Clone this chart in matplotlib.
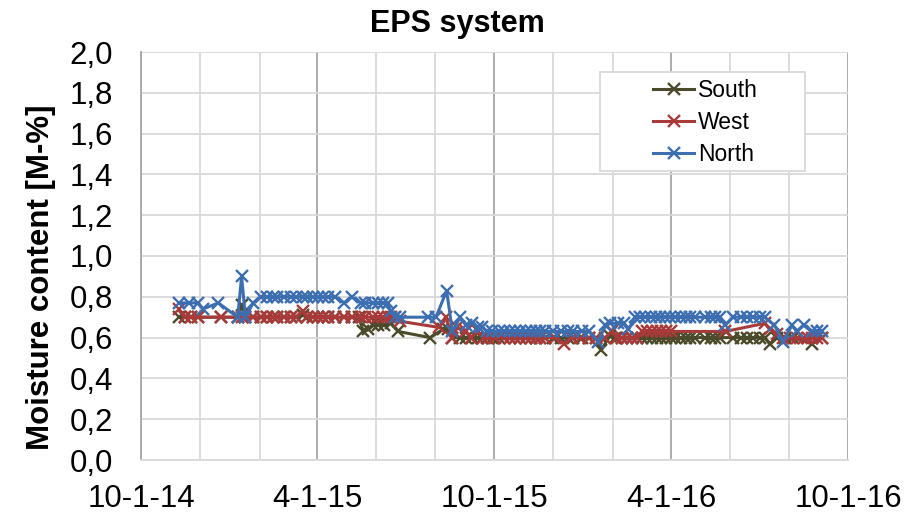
import matplotlib
matplotlib.use("Agg")
import matplotlib.pyplot as plt
import matplotlib.dates as mdates
from matplotlib.ticker import FuncFormatter, MultipleLocator
from matplotlib.patches import Rectangle
import pandas as pd

plt.rcParams['font.family'] = ['Liberation Sans', 'DejaVu Sans']

# --- data ---
north_dates = [
    '2014-11-09', '2014-11-20', '2014-11-29', '2014-12-04', '2014-12-20',
    '2015-01-09', '2015-01-13', '2015-01-17', '2015-01-25', '2015-02-02',
    '2015-02-08', '2015-02-14', '2015-02-19', '2015-02-26', '2015-03-05',
    '2015-03-10', '2015-03-17', '2015-03-22', '2015-03-28', '2015-04-02',
    '2015-04-07', '2015-04-12', '2015-04-20', '2015-04-29', '2015-05-07',
    '2015-05-16', '2015-05-21', '2015-05-29', '2015-06-03', '2015-06-08',
    '2015-06-13', '2015-06-16', '2015-06-21', '2015-06-26', '2015-07-25',
    '2015-08-02', '2015-08-13', '2015-08-19', '2015-08-27', '2015-09-02',
    '2015-09-08', '2015-09-14', '2015-09-19', '2015-09-24', '2015-09-29',
    '2015-10-06', '2015-10-11', '2015-10-18', '2015-10-23', '2015-10-28',
    '2015-11-03', '2015-11-08', '2015-11-13', '2015-11-18', '2015-11-23',
    '2015-12-01', '2015-12-09', '2015-12-16', '2015-12-22', '2015-12-31',
    '2016-01-07', '2016-01-17', '2016-01-24', '2016-01-29', '2016-02-06',
    '2016-02-12', '2016-02-17', '2016-02-24', '2016-02-29', '2016-03-05',
    '2016-03-11', '2016-03-16', '2016-03-21', '2016-03-26', '2016-03-31',
    '2016-04-05', '2016-04-11', '2016-04-16', '2016-04-21', '2016-04-26',
    '2016-05-06', '2016-05-12', '2016-05-17', '2016-05-22', '2016-05-27',
    '2016-06-04', '2016-06-12', '2016-06-19', '2016-06-25', '2016-07-02',
    '2016-07-07', '2016-07-17', '2016-07-26', '2016-08-04', '2016-08-09',
    '2016-08-16', '2016-08-25', '2016-08-30', '2016-09-04',
]
north_vals = [
    0.77, 0.77, 0.77, 0.74, 0.77,
    0.70, 0.90, 0.70, 0.77, 0.80,
    0.80, 0.80, 0.80, 0.80, 0.80,
    0.80, 0.80, 0.80, 0.80, 0.80,
    0.80, 0.80, 0.80, 0.77, 0.80,
    0.77, 0.77, 0.77, 0.77, 0.77,
    0.77, 0.73, 0.70, 0.70, 0.70,
    0.70, 0.83, 0.63, 0.70, 0.66,
    0.67, 0.65, 0.65, 0.63, 0.63,
    0.63, 0.63, 0.63, 0.63, 0.63,
    0.63, 0.63, 0.63, 0.63, 0.63,
    0.63, 0.63, 0.63, 0.63, 0.63,
    0.63, 0.58, 0.66, 0.67, 0.67,
    0.67, 0.64, 0.70, 0.70, 0.70,
    0.70, 0.70, 0.70, 0.70, 0.70,
    0.70, 0.70, 0.70, 0.70, 0.70,
    0.70, 0.70, 0.70, 0.70, 0.66,
    0.70, 0.70, 0.70, 0.70, 0.70,
    0.70, 0.66, 0.58, 0.66, 0.63,
    0.66, 0.63, 0.63, 0.63,
]

west_dates = [
    '2014-11-09', '2014-11-15', '2014-11-22', '2014-11-29', '2014-12-23',
    '2015-01-09', '2015-01-13', '2015-01-17', '2015-01-25', '2015-02-02',
    '2015-02-08', '2015-02-14', '2015-02-19', '2015-02-26', '2015-03-05',
    '2015-03-10', '2015-03-17', '2015-03-22', '2015-03-28', '2015-04-02',
    '2015-04-07', '2015-04-12', '2015-04-20', '2015-04-29', '2015-05-07',
    '2015-05-16', '2015-05-21', '2015-05-29', '2015-06-03', '2015-06-08',
    '2015-06-13', '2015-06-16', '2015-06-21', '2015-06-26', '2015-08-05',
    '2015-08-12', '2015-08-19', '2015-08-24', '2015-09-02', '2015-09-07',
    '2015-09-14', '2015-09-20', '2015-09-25', '2015-10-02', '2015-10-11',
    '2015-10-18', '2015-10-23', '2015-10-28', '2015-11-03', '2015-11-08',
    '2015-11-13', '2015-11-18', '2015-11-23', '2015-12-03', '2015-12-12',
    '2015-12-21', '2015-12-29', '2016-01-07', '2016-01-14', '2016-01-24',
    '2016-01-31', '2016-02-05', '2016-02-10', '2016-02-15', '2016-02-21',
    '2016-02-26', '2016-03-02', '2016-03-07', '2016-03-12', '2016-03-17',
    '2016-03-22', '2016-03-27', '2016-04-01', '2016-05-27', '2016-07-07',
    '2016-07-12', '2016-07-20', '2016-07-26', '2016-08-02', '2016-08-09',
    '2016-08-16', '2016-08-21', '2016-08-25', '2016-08-30', '2016-09-04',
]
west_vals = [
    0.74, 0.70, 0.70, 0.70, 0.70,
    0.70, 0.70, 0.70, 0.70, 0.70,
    0.70, 0.70, 0.70, 0.70, 0.70,
    0.70, 0.73, 0.70, 0.70, 0.70,
    0.70, 0.70, 0.70, 0.70, 0.70,
    0.70, 0.70, 0.70, 0.70, 0.70,
    0.70, 0.70, 0.70, 0.68, 0.65,
    0.70, 0.60, 0.65, 0.63, 0.60,
    0.63, 0.60, 0.60, 0.60, 0.60,
    0.60, 0.60, 0.60, 0.60, 0.60,
    0.60, 0.60, 0.60, 0.60, 0.57,
    0.60, 0.60, 0.60, 0.60, 0.60,
    0.63, 0.60, 0.60, 0.60, 0.60,
    0.60, 0.63, 0.63, 0.63, 0.63,
    0.63, 0.63, 0.63, 0.63, 0.67,
    0.64, 0.62, 0.60, 0.60, 0.60,
    0.60, 0.60, 0.60, 0.60, 0.60,
]

south_dates = [
    '2014-11-09', '2014-11-15', '2014-11-22', '2014-11-29', '2014-12-23',
    '2015-01-09', '2015-01-13', '2015-01-17', '2015-01-25', '2015-02-02',
    '2015-02-08', '2015-02-14', '2015-02-19', '2015-02-26', '2015-03-05',
    '2015-03-10', '2015-03-17', '2015-03-22', '2015-03-28', '2015-04-02',
    '2015-04-07', '2015-04-12', '2015-04-20', '2015-04-29', '2015-05-07',
    '2015-05-14', '2015-05-19', '2015-05-24', '2015-05-29', '2015-06-03',
    '2015-06-09', '2015-06-16', '2015-06-24', '2015-07-27', '2015-08-09',
    '2015-08-14', '2015-08-19', '2015-08-27', '2015-09-02', '2015-09-08',
    '2015-09-14', '2015-09-19', '2015-09-24', '2015-09-29', '2015-10-06',
    '2015-10-11', '2015-10-18', '2015-10-23', '2015-10-28', '2015-11-03',
    '2015-11-08', '2015-11-13', '2015-11-18', '2015-11-23', '2015-12-01',
    '2015-12-09', '2015-12-16', '2015-12-22', '2015-12-31', '2016-01-07',
    '2016-01-14', '2016-01-20', '2016-01-29', '2016-02-03', '2016-02-10',
    '2016-02-15', '2016-02-21', '2016-02-26', '2016-03-02', '2016-03-07',
    '2016-03-12', '2016-03-17', '2016-03-22', '2016-03-27', '2016-04-01',
    '2016-04-05', '2016-04-11', '2016-04-16', '2016-04-21', '2016-04-26',
    '2016-05-06', '2016-05-12', '2016-05-17', '2016-05-22', '2016-06-04',
    '2016-06-12', '2016-06-19', '2016-06-25', '2016-07-02', '2016-07-07',
    '2016-07-12', '2016-07-20', '2016-07-28', '2016-08-05', '2016-08-25',
    '2016-09-04',
]
south_vals = [
    0.70, 0.70, 0.70, 0.70, 0.70,
    0.70, 0.76, 0.70, 0.70, 0.70,
    0.70, 0.70, 0.70, 0.70, 0.70,
    0.70, 0.71, 0.70, 0.70, 0.70,
    0.70, 0.70, 0.70, 0.70, 0.70,
    0.70, 0.63, 0.64, 0.66, 0.66,
    0.66, 0.67, 0.63, 0.60, 0.64,
    0.64, 0.60, 0.60, 0.60, 0.60,
    0.60, 0.60, 0.60, 0.60, 0.60,
    0.60, 0.60, 0.60, 0.60, 0.60,
    0.60, 0.60, 0.60, 0.60, 0.60,
    0.60, 0.60, 0.60, 0.60, 0.60,
    0.60, 0.54, 0.61, 0.60, 0.60,
    0.60, 0.60, 0.60, 0.60, 0.60,
    0.60, 0.60, 0.60, 0.60, 0.60,
    0.60, 0.60, 0.60, 0.60, 0.60,
    0.60, 0.60, 0.60, 0.60, 0.60,
    0.60, 0.60, 0.60, 0.60, 0.60,
    0.57, 0.60, 0.60, 0.60, 0.57,
    0.60,
]

series = [
    ('South', south_dates, south_vals, '#4b4b2b'),
    ('West', west_dates, west_vals, '#a83a3a'),
    ('North', north_dates, north_vals, '#3c6eb0'),
]

W, H = 914, 521
fig = plt.figure(figsize=(W / 100, H / 100), dpi=100)
ax = fig.add_axes([141 / W, 1 - 460 / H, 707 / W, 408 / H])

for name, d, v, c in series:
    ax.plot(pd.to_datetime(d), v, color=c, lw=2.2, marker='x',
            ms=8, mew=1.7, label=name, zorder=3)

ax.set_xlim(pd.Timestamp('2014-10-01'), pd.Timestamp('2016-10-01'))
ax.set_ylim(0, 2.0)

ax.xaxis.set_major_locator(mdates.MonthLocator(bymonth=(4, 10)))
ax.xaxis.set_minor_locator(mdates.MonthLocator(bymonth=(2, 6, 8, 12)))
ax.xaxis.set_major_formatter(FuncFormatter(
    lambda x, pos: (lambda d: f"{d.month}-{d.day}-{d.year % 100:02d}")(mdates.num2date(x))))
ax.yaxis.set_major_locator(MultipleLocator(0.2))
ax.yaxis.set_major_formatter(FuncFormatter(lambda y, pos: f"{y:.1f}".replace('.', ',')))

ax.grid(True, which='major', axis='x', color='#a6a6a6', lw=1.3)
ax.grid(True, which='minor', axis='x', color='#d9d9d9', lw=1.3)
ax.grid(True, which='major', axis='y', color='#d9d9d9', lw=1.3)
ax.set_axisbelow(True)

for s in ['top', 'right']:
    ax.spines[s].set_visible(False)
ax.spines['left'].set_color('#a6a6a6')
ax.spines['bottom'].set_color('#d9d9d9')
ax.spines['left'].set_linewidth(1.3)
ax.spines['bottom'].set_linewidth(1.3)

ax.tick_params(axis='both', which='both', length=0, labelsize=22.5)
ax.tick_params(axis='y', pad=20)
ax.tick_params(axis='x', pad=17)

fig.text(0.5, 1 - 24 / H, 'EPS system', fontsize=22, fontweight='bold',
         ha='center', va='center')
ax.set_ylabel('Moisture content [M-%]', fontsize=22.5, fontweight='bold')
ax.yaxis.set_label_coords((56 - 141) / 707, (460 - 277) / 408)

# legend frame drawn separately so it can be as wide as in the original
ax.add_patch(Rectangle((600 / W, 1 - 171 / H), 205 / W, 99 / H,
                       transform=fig.transFigure, facecolor='white',
                       edgecolor='#d9d9d9', lw=1.3, zorder=4, clip_on=False))
leg = ax.legend(loc='upper left', bbox_to_anchor=(653 / W, 1 - 79 / H),
                bbox_transform=fig.transFigure, fontsize=16.5, frameon=False,
                handlelength=1.8, handletextpad=0.15, labelspacing=0.4,
                borderpad=0, borderaxespad=0)
leg.set_zorder(5)

fig.savefig('out.png', dpi=100, facecolor='white')
